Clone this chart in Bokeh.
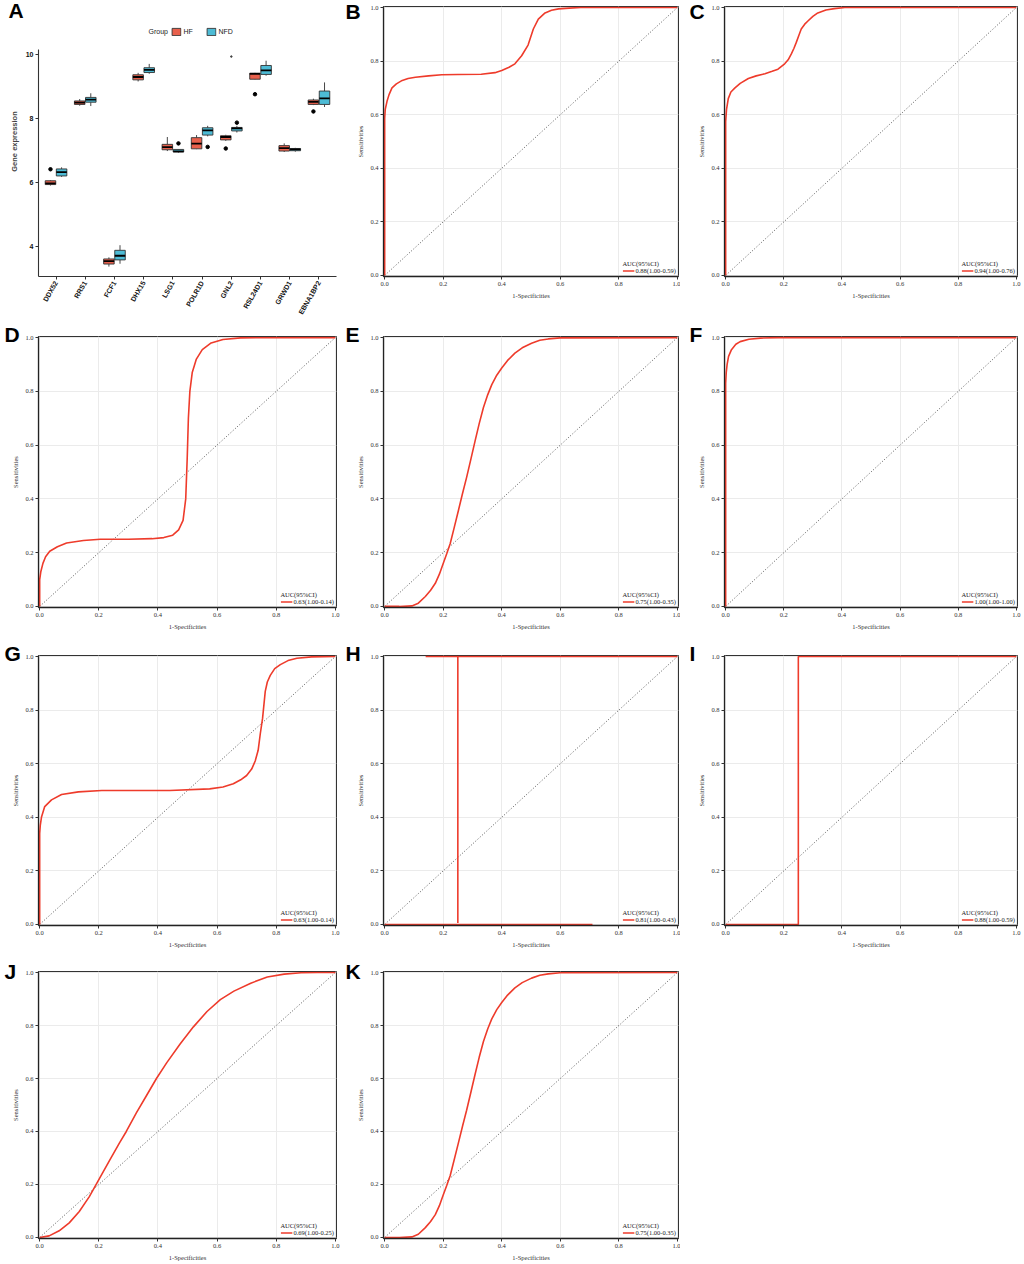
import math
from bokeh.plotting import figure
from bokeh.layouts import column, row
from bokeh.models import Range1d, FixedTicker, PrintfTickFormatter, Legend, LegendItem
from bokeh.embed import file_html
from bokeh.resources import INLINE

NAN = float("nan")

# ---------------- Panel A data (boxplot of gene expression) ----------------
genes = ["DDX52", "RRS1", "FCF1", "DHX15", "LSG1", "POLR1D", "GNL2", "RSL24D1", "GRWD1", "EBNA1BP2"]
groups = ["HF", "NFD"]
hf_low = [5.90, 8.40, 3.36, 9.16, 6.98, 7.04, 7.30, 9.22, 6.95, 8.42]
hf_q1 = [5.93, 8.44, 3.44, 9.21, 7.02, 7.05, 7.33, 9.23, 6.98, 8.44]
hf_med = [5.97, 8.50, 3.53, 9.30, 7.10, 7.21, 7.42, 9.40, 7.07, 8.52]
hf_q3 = [6.05, 8.55, 3.60, 9.37, 7.19, 7.40, 7.46, 9.42, 7.15, 8.58]
hf_high = [6.07, 8.61, 3.65, 9.43, 7.42, 7.48, 7.49, 9.43, 7.22, 8.62]
nfd_low = [6.17, 8.39, 3.45, 9.40, 6.93, 7.44, 7.56, 9.34, 6.96, 8.36]
nfd_q1 = [6.20, 8.51, 3.57, 9.44, 6.95, 7.48, 7.61, 9.38, 6.99, 8.44]
nfd_med = [6.32, 8.59, 3.70, 9.52, 6.97, 7.63, 7.69, 9.51, 7.03, 8.63]
nfd_q3 = [6.42, 8.66, 3.87, 9.59, 7.03, 7.71, 7.72, 9.66, 7.06, 8.86]
nfd_high = [6.47, 8.79, 4.03, 9.71, 7.04, 7.77, 7.77, 9.81, 7.08, 9.13]
hf_out_gene = ["DDX52", "GNL2", "RSL24D1", "EBNA1BP2"]
hf_out_val = [6.41, 7.06, 8.76, 8.22]
nfd_out_gene = ["LSG1", "POLR1D", "GNL2"]
nfd_out_val = [7.22, 7.11, 7.87]
stray_gene = ["GNL2"]
stray_val = [9.94]
expr_ticks = [4, 6, 8, 10]

# ---------------- ROC curve data ----------------
diag = [0.0, 1.0]
roc_ticks = [0.0, 0.2, 0.4, 0.6, 0.8, 1.0]

B_x = [0, 0, 0.002, 0.008, 0.015, 0.025, 0.04, 0.06, 0.08, 0.105, 0.15, 0.195, 0.25, 0.33, 0.377, 0.40, 0.425, 0.445, 0.468, 0.49, 0.508, 0.525, 0.548, 0.57, 0.594, 0.63, 0.67, 1.0]
B_y = [0, 0.586, 0.62, 0.65, 0.675, 0.70, 0.715, 0.728, 0.735, 0.74, 0.745, 0.749, 0.75, 0.751, 0.757, 0.765, 0.777, 0.79, 0.82, 0.86, 0.92, 0.957, 0.98, 0.99, 0.995, 0.998, 1.0, 1.0]

C_x = [0, 0, 0.003, 0.009, 0.018, 0.032, 0.05, 0.078, 0.105, 0.135, 0.16, 0.18, 0.203, 0.215, 0.226, 0.235, 0.243, 0.252, 0.26, 0.272, 0.283, 0.30, 0.317, 0.345, 0.374, 0.41, 1.0]
C_y = [0, 0.574, 0.62, 0.66, 0.685, 0.70, 0.717, 0.735, 0.745, 0.753, 0.762, 0.77, 0.79, 0.805, 0.827, 0.848, 0.87, 0.897, 0.92, 0.938, 0.95, 0.967, 0.98, 0.991, 0.996, 1.0, 1.0]

D_x = [0, 0, 0.004, 0.011, 0.02, 0.034, 0.06, 0.091, 0.148, 0.205, 0.3, 0.38, 0.42, 0.45, 0.47, 0.485, 0.494, 0.499, 0.503, 0.508, 0.516, 0.53, 0.55, 0.58, 0.62, 0.68, 1.0]
D_y = [0, 0.1, 0.13, 0.16, 0.185, 0.205, 0.222, 0.236, 0.245, 0.25, 0.25, 0.252, 0.256, 0.265, 0.285, 0.32, 0.4, 0.55, 0.7, 0.8, 0.87, 0.92, 0.955, 0.98, 0.993, 0.999, 1.0]

E_x = [0, 0.05, 0.093, 0.115, 0.139, 0.157, 0.173, 0.187, 0.2, 0.212, 0.224, 0.238, 0.252, 0.266, 0.28, 0.295, 0.309, 0.323, 0.3375, 0.352, 0.366, 0.383, 0.4, 0.42, 0.445, 0.47, 0.502, 0.53, 0.559, 0.6, 1.0]
E_y = [0, 0.0, 0.002, 0.012, 0.037, 0.06, 0.086, 0.12, 0.16, 0.196, 0.234, 0.295, 0.357, 0.42, 0.48, 0.55, 0.616, 0.68, 0.74, 0.787, 0.825, 0.86, 0.887, 0.915, 0.942, 0.962, 0.979, 0.99, 0.995, 0.999, 1.0]

F_x = [0, 0, 0.002, 0.005, 0.01, 0.02, 0.035, 0.05, 0.08, 0.12, 0.18, 1.0]
F_y = [0, 0.83, 0.87, 0.9, 0.93, 0.955, 0.975, 0.985, 0.994, 0.998, 1.0, 1.0]

G_x = [0, 0, 0.002, 0.006, 0.017, 0.04, 0.074, 0.131, 0.21, 0.44, 0.575, 0.62, 0.655, 0.68, 0.70, 0.717, 0.729, 0.739, 0.746, 0.754, 0.763, 0.77, 0.78, 0.795, 0.814, 0.84, 0.87, 0.92, 1.0]
G_y = [0, 0.34, 0.37, 0.40, 0.44, 0.465, 0.485, 0.495, 0.5, 0.5, 0.506, 0.513, 0.525, 0.54, 0.556, 0.58, 0.61, 0.65, 0.71, 0.77, 0.87, 0.905, 0.93, 0.955, 0.97, 0.985, 0.994, 0.999, 1.0]

H_x = [0.0, 0.71, NAN, 0.25, 0.25, NAN, 0.14, 1.0]
H_y = [0.0, 0.0, NAN, 0.005, 1.0, NAN, 1.0, 1.0]

I_x = [0.0, 0.25, 0.25, 1.0]
I_y = [0.0, 0.0, 1.0, 1.0]

J_x = [0, 0.032, 0.066, 0.1, 0.134, 0.168, 0.202, 0.236, 0.27, 0.293, 0.327, 0.361, 0.395, 0.43, 0.475, 0.52, 0.566, 0.611, 0.657, 0.714, 0.77, 0.827, 0.884, 0.94, 1.0]
J_y = [0, 0.006, 0.025, 0.055, 0.098, 0.154, 0.222, 0.29, 0.357, 0.40, 0.47, 0.535, 0.60, 0.66, 0.73, 0.795, 0.853, 0.898, 0.93, 0.96, 0.983, 0.994, 0.999, 1.0, 1.0]

K_x = [0, 0.05, 0.093, 0.115, 0.139, 0.157, 0.173, 0.187, 0.2, 0.212, 0.224, 0.238, 0.252, 0.266, 0.28, 0.295, 0.309, 0.323, 0.3375, 0.352, 0.366, 0.383, 0.4, 0.42, 0.445, 0.47, 0.502, 0.53, 0.559, 0.6, 1.0]
K_y = [0, 0.0, 0.002, 0.012, 0.037, 0.06, 0.086, 0.12, 0.16, 0.196, 0.234, 0.295, 0.357, 0.42, 0.48, 0.55, 0.616, 0.68, 0.74, 0.787, 0.825, 0.86, 0.887, 0.915, 0.942, 0.962, 0.979, 0.99, 0.995, 0.999, 1.0]

auc_labels = {
    "B": "0.88(1.00-0.59)", "C": "0.94(1.00-0.76)", "D": "0.63(1.00-0.14)",
    "E": "0.75(1.00-0.35)", "F": "1.00(1.00-1.00)", "G": "0.63(1.00-0.14)",
    "H": "0.81(1.00-0.43)", "I": "0.88(1.00-0.59)", "J": "0.69(1.00-0.25)",
    "K": "0.75(1.00-0.35)",
}

# ---------------- styling / layout constants ----------------
HF_COLOR = "#E8604C"
NFD_COLOR = "#4DBBD5"
ROC_RED = "#EE3B2B"
SANS = "Liberation Sans"
SERIF = "Liberation Serif"
# per column: figure width, border left, border right, letter x offset from frame
COLS = [(344, 38, 8, -34), (336, 39, 2, -38), (343, 44, 6, -35)]
# per row: figure height, border top, frame height, title standoff
ROWS = [(320, 6, 274, -32), (320, 16, 271, -19), (317, 15, 270, -19), (306, 14, 267, -22)]
X0, X1 = -0.004, 1.004


def panel_letter(p, text, offset, standoff):
    p.title.text = text
    p.title.text_font = SANS
    p.title.text_font_size = "21px"
    p.title.text_font_style = "bold"
    p.title.text_color = "black"
    p.title.align = "left"
    p.title.offset = offset
    p.title.standoff = standoff


def roc_panel(letter, xs, ys, col, rw):
    w, bl, br, lofs = COLS[col]
    h, bt, fh, lstand = ROWS[rw]
    bb = h - bt - fh
    p = figure(width=w, height=h, x_range=Range1d(X0, X1), y_range=Range1d(X0, X1),
               output_backend="svg", toolbar_location=None,
               min_border_left=bl, min_border_right=br, min_border_top=bt, min_border_bottom=bb)
    p.background_fill_color = "white"
    p.border_fill_color = "white"
    p.outline_line_color = "#333333"
    p.outline_line_width = 1
    for ax in (p.xaxis, p.yaxis):
        ax.ticker = FixedTicker(ticks=roc_ticks)
        ax.formatter = PrintfTickFormatter(format="%.1f")
        ax.major_label_text_font = SERIF
        ax.major_label_text_font_size = "6.5px"
        ax.major_label_text_color = "#333333"
        ax.axis_label_text_font = SERIF
        ax.axis_label_text_font_size = "6.5px"
        ax.axis_label_text_font_style = "normal"
        ax.axis_label_text_color = "#333333"
        ax.axis_line_color = "#222222"
        ax.axis_line_width = 1.3
        ax.major_tick_in = 0
        ax.major_tick_out = 3
        ax.major_tick_line_color = "#333333"
        ax.minor_tick_line_color = None
        ax.major_label_standoff = 2
        ax.axis_label_standoff = 3
    p.xaxis.axis_label = "1-Specificities"
    p.yaxis.axis_label = "Sensitivities"
    p.grid.ticker = FixedTicker(ticks=roc_ticks)
    p.grid.grid_line_color = "#EBEBEB"
    p.grid.grid_line_width = 1

    p.line(x=diag, y=diag, line_color="#444444", line_width=0.9, line_dash="1 2")
    r = p.line(x=xs, y=ys, line_color=ROC_RED, line_width=1.6)

    leg = Legend(items=[LegendItem(label=auc_labels[letter], renderers=[r])],
                 location="bottom_right", title="AUC(95%CI)")
    leg.title_text_font = SERIF
    leg.title_text_font_size = "6.5px"
    leg.title_text_font_style = "normal"
    leg.title_text_color = "#222222"
    leg.label_text_font = SERIF
    leg.label_text_font_size = "6.5px"
    leg.label_text_color = "#222222"
    leg.background_fill_alpha = 0
    leg.border_line_color = None
    leg.glyph_width = 12
    leg.glyph_height = 7
    leg.label_height = 7
    leg.label_standoff = 1
    leg.padding = 1
    leg.margin = 2
    leg.spacing = 0
    leg.title_standoff = 0
    p.add_layout(leg)

    panel_letter(p, letter, lofs, lstand)
    return p


# ---------------- Panel A ----------------
A_W, A_BL, A_BR, A_LOFS = COLS[0]
A_H, A_BT, A_FH, A_STAND = ROWS[0]
A_BB = A_H - A_BT - A_FH
A_AXIS_TOP_PX = 50            # where the y axis (value 10.15) starts, page px
ax0, ax1 = 0.4, 10.6
ay0, ay_axis_top = 3.05, 10.15
axis_px = (A_BT + A_FH) - A_AXIS_TOP_PX
px_per_unit = axis_px / (ay_axis_top - ay0)
ay1 = ay0 + A_FH / px_per_unit

pa = figure(width=A_W, height=A_H, x_range=Range1d(ax0, ax1), y_range=Range1d(ay0, ay1),
            output_backend="svg", toolbar_location=None,
            min_border_left=A_BL, min_border_right=A_BR, min_border_top=A_BT, min_border_bottom=A_BB)
pa.outline_line_color = None
pa.grid.grid_line_color = None
pa.background_fill_color = "white"
pa.border_fill_color = "white"

pos = {g: i + 1 for i, g in enumerate(genes)}
DODGE = 0.19
BW = 0.36
hf_x = [pos[g] - DODGE for g in genes]
nfd_x = [pos[g] + DODGE for g in genes]


def draw_boxes(xs, lo, q1, med, q3, hi, color):
    pa.segment(x0=xs, y0=q3, x1=xs, y1=hi, line_color="#333333", line_width=0.9)
    pa.segment(x0=xs, y0=q1, x1=xs, y1=lo, line_color="#333333", line_width=0.9)
    r = pa.vbar(x=xs, width=BW, bottom=q1, top=q3, fill_color=color, line_color="#333333", line_width=0.9)
    pa.segment(x0=[x - BW / 2 for x in xs], y0=med, x1=[x + BW / 2 for x in xs], y1=med,
               line_color="black", line_width=1.8)
    return r


r_hf = draw_boxes(hf_x, hf_low, hf_q1, hf_med, hf_q3, hf_high, HF_COLOR)
r_nfd = draw_boxes(nfd_x, nfd_low, nfd_q1, nfd_med, nfd_q3, nfd_high, NFD_COLOR)
pa.scatter(x=[pos[g] - DODGE for g in hf_out_gene], y=hf_out_val, size=3.5, color="black")
pa.scatter(x=[pos[g] + DODGE for g in nfd_out_gene], y=nfd_out_val, size=3.5, color="black")
pa.scatter(x=[pos[g] for g in stray_gene], y=stray_val, size=1.6, color="#444444")
r_dummy = pa.scatter(x=[], y=[], size=1, alpha=0)

for ax in (pa.xaxis, pa.yaxis):
    ax.major_label_text_font = SANS
    ax.major_label_text_font_size = "7px"
    ax.major_label_text_font_style = "bold"
    ax.major_label_text_color = "#111111"
    ax.axis_line_color = "#333333"
    ax.axis_line_width = 1.1
    ax.major_tick_in = 0
    ax.major_tick_out = 3
    ax.major_tick_line_color = "#333333"
    ax.minor_tick_line_color = None
    ax.major_label_standoff = 2
pa.yaxis.bounds = (ay0, ay_axis_top)
pa.xaxis.ticker = FixedTicker(ticks=[pos[g] for g in genes])
pa.xaxis.major_label_overrides = {pos[g]: g for g in genes}
pa.xaxis.major_label_orientation = math.pi / 3
pa.yaxis.ticker = FixedTicker(ticks=expr_ticks)
pa.yaxis.axis_label = "Gene expression"
pa.yaxis.axis_label_text_font = SANS
pa.yaxis.axis_label_text_font_size = "7.5px"
pa.yaxis.axis_label_text_font_style = "bold"
pa.yaxis.axis_label_standoff = 4

leg_a = Legend(items=[LegendItem(label="Group", renderers=[r_dummy]),
                      LegendItem(label=groups[0], renderers=[r_hf]),
                      LegendItem(label=groups[1], renderers=[r_nfd])],
               orientation="horizontal", location="top_center")
leg_a.label_text_font = SANS
leg_a.label_text_font_size = "7px"
leg_a.label_text_color = "#222222"
leg_a.glyph_width = 11
leg_a.glyph_height = 9
leg_a.label_height = 9
leg_a.label_standoff = 2
leg_a.spacing = 2
leg_a.padding = 2
leg_a.margin = 21
leg_a.border_line_color = None
leg_a.background_fill_alpha = 0
pa.add_layout(leg_a)

panel_letter(pa, "A", -30, A_STAND + 1)

# ---------------- ROC panels ----------------
pB = roc_panel("B", B_x, B_y, 1, 0)
pC = roc_panel("C", C_x, C_y, 2, 0)
pD = roc_panel("D", D_x, D_y, 0, 1)
pE = roc_panel("E", E_x, E_y, 1, 1)
pF = roc_panel("F", F_x, F_y, 2, 1)
pG = roc_panel("G", G_x, G_y, 0, 2)
pH = roc_panel("H", H_x, H_y, 1, 2)
pI = roc_panel("I", I_x, I_y, 2, 2)
pJ = roc_panel("J", J_x, J_y, 0, 3)
pK = roc_panel("K", K_x, K_y, 1, 3)

layout = column(row(pa, pB, pC), row(pD, pE, pF), row(pG, pH, pI), row(pJ, pK))

with open("out.html", "w") as f:
    f.write(file_html(layout, INLINE))
